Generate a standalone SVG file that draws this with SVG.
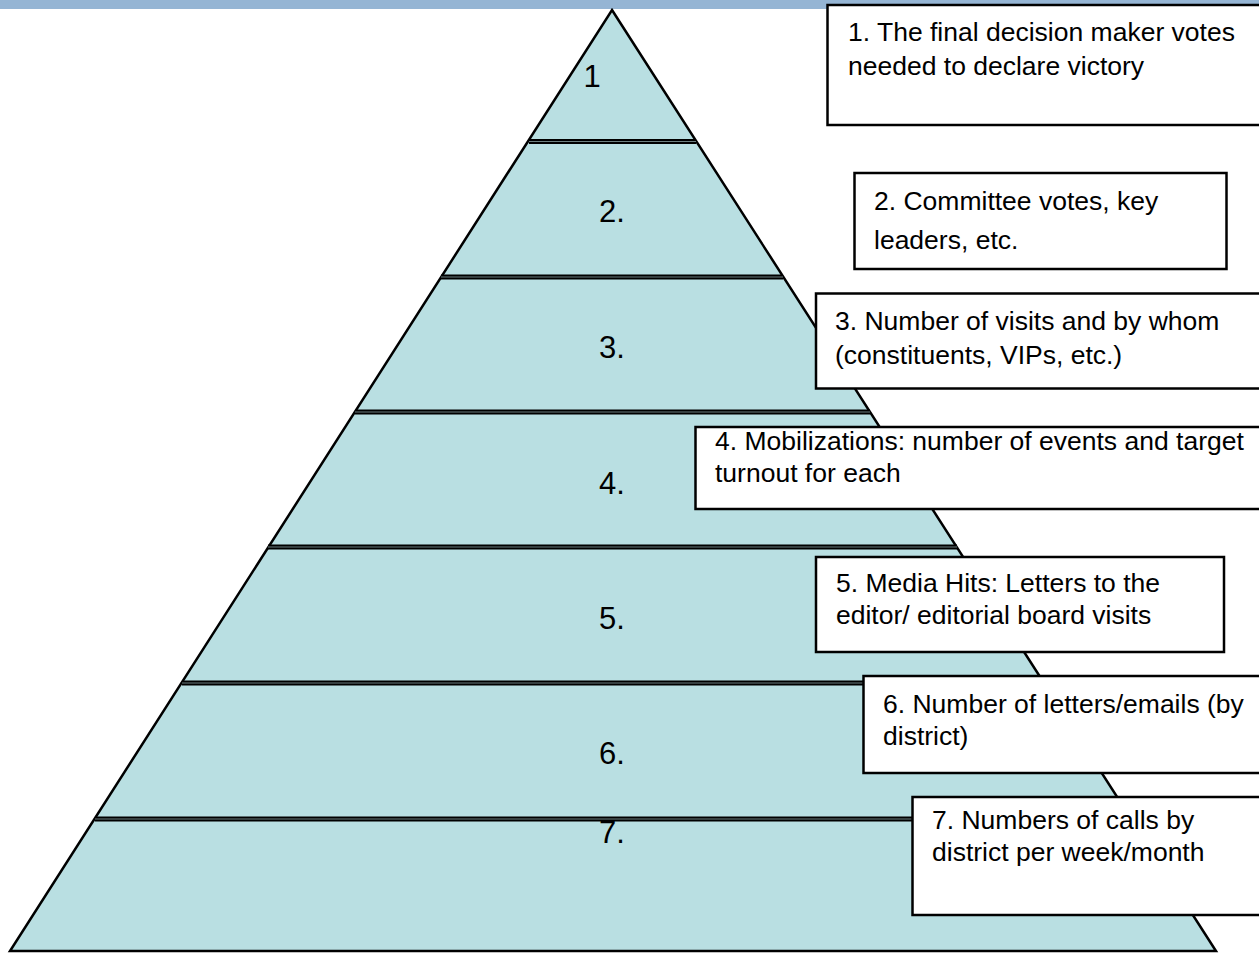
<svg xmlns="http://www.w3.org/2000/svg" width="1259" height="953" viewBox="0 0 1259 953">
<style>
.band{fill:#b9dfe2;stroke:#000;stroke-width:2.5;stroke-linejoin:miter}
.sep{stroke:#000;stroke-width:5}
.sepc{stroke:#6d7f80;stroke-width:1}
.box{fill:#fff;stroke:#000;stroke-width:2.5}
.t{font-family:"Liberation Sans",Arial,sans-serif;font-size:26.5px;fill:#000}
.lbl{font-family:"Liberation Sans",Arial,sans-serif;font-size:31px;fill:#000}
</style>
<rect x="0" y="0" width="1259" height="9" fill="#95b5d4"/>
<g id="pyramid">
<polygon class="band" points="612,10 1216,951 10,951"/>
</g>
<g id="connectors">
<line class="sep" x1="529" y1="141.5" x2="696" y2="141.5"/>
<line class="sepc" x1="529" y1="141.5" x2="696" y2="141.5"/>
<line class="sep" x1="441" y1="277" x2="783" y2="277"/>
<line class="sepc" x1="441" y1="277" x2="783" y2="277"/>
<line class="sep" x1="355" y1="412" x2="870" y2="412"/>
<line class="sepc" x1="355" y1="412" x2="870" y2="412"/>
<line class="sep" x1="268" y1="547" x2="957" y2="547"/>
<line class="sepc" x1="268" y1="547" x2="957" y2="547"/>
<line class="sep" x1="182" y1="683" x2="1044" y2="683"/>
<line class="sepc" x1="182" y1="683" x2="1044" y2="683"/>
<line class="sep" x1="95" y1="819" x2="1130" y2="819"/>
<line class="sepc" x1="95" y1="819" x2="1130" y2="819"/>
</g>
<g id="level-labels">
<text class="lbl" x="592" y="87" text-anchor="middle">1</text>
<text class="lbl" x="612" y="222" text-anchor="middle">2.</text>
<text class="lbl" x="612" y="358" text-anchor="middle">3.</text>
<text class="lbl" x="612" y="494" text-anchor="middle">4.</text>
<text class="lbl" x="612" y="629" text-anchor="middle">5.</text>
<text class="lbl" x="612" y="764" text-anchor="middle">6.</text>
<text class="lbl" x="612" y="843" text-anchor="middle">7.</text>
</g>
<g id="box1">
<rect class="box" x="827.5" y="5" width="440" height="120"/>
<text class="t" x="848" y="41">1. The final decision maker votes</text>
<text class="t" x="848" y="75">needed to declare victory</text>
</g>
<g id="box2">
<rect class="box" x="854.5" y="173" width="372" height="96"/>
<text class="t" x="874" y="210">2. Committee votes, key</text>
<text class="t" x="874" y="249">leaders, etc.</text>
</g>
<g id="box3">
<rect class="box" x="816" y="293.5" width="450" height="95"/>
<text class="t" x="835" y="330">3. Number of visits and by whom</text>
<text class="t" x="835" y="364">(constituents, VIPs, etc.)</text>
</g>
<g id="box4">
<rect class="box" x="695.5" y="427" width="570" height="82"/>
<text class="t" x="715" y="450">4. Mobilizations: number of events and target</text>
<text class="t" x="715" y="482">turnout for each</text>
</g>
<g id="box5">
<rect class="box" x="816" y="557" width="408" height="95"/>
<text class="t" x="836" y="592">5. Media Hits: Letters to the</text>
<text class="t" x="836" y="624">editor/ editorial board visits</text>
</g>
<g id="box6">
<rect class="box" x="863.5" y="676" width="400" height="97"/>
<text class="t" x="883" y="713">6. Number of letters/emails (by</text>
<text class="t" x="883" y="745">district)</text>
</g>
<g id="box7">
<rect class="box" x="912.5" y="797" width="355" height="118"/>
<text class="t" x="932" y="829">7. Numbers of calls by</text>
<text class="t" x="932" y="861">district per week/month</text>
</g>
</svg>
